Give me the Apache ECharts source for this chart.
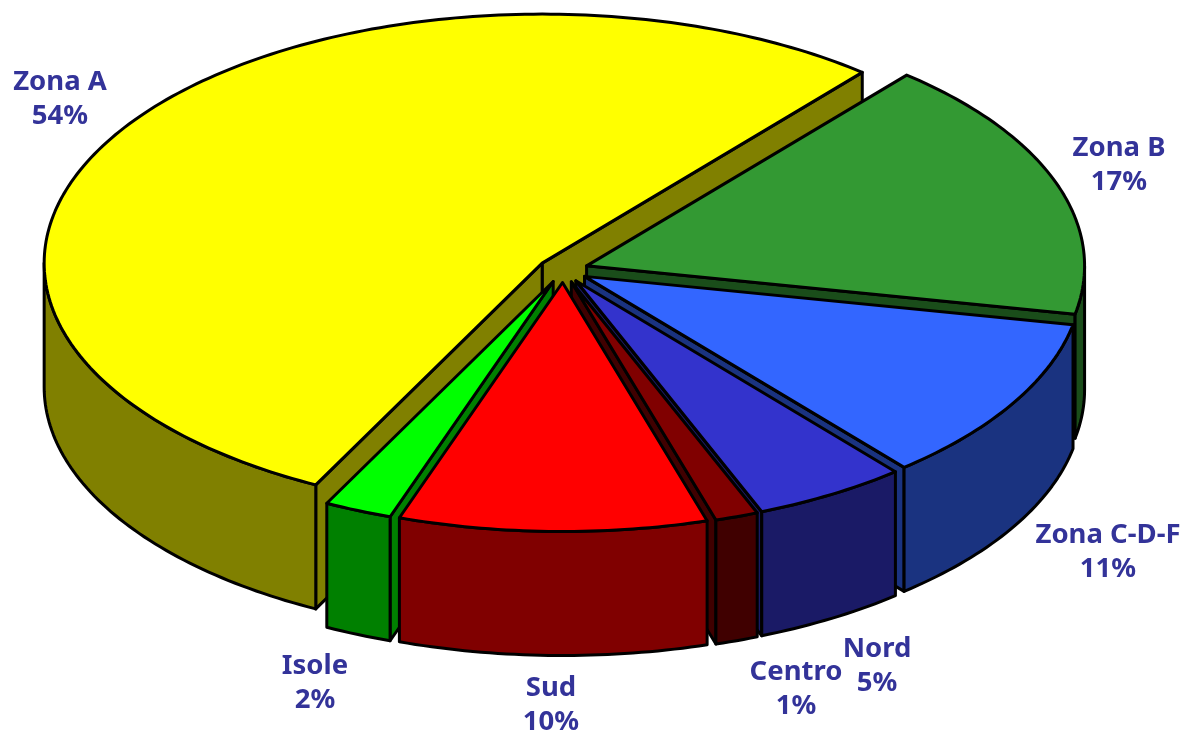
<!DOCTYPE html>
<html><head><meta charset="utf-8">
<style>html,body{margin:0;padding:0;background:#fff}#c{width:1189px;height:734px}</style>
<script src="https://cdn.jsdelivr.net/npm/echarts@6/dist/echarts.min.js"></script>
</head><body><div id="c"></div>
<script>
// data: counter-clockwise from the right-hand edge of Zona A
const categories = ['Zona A','Isole','Sud','Centro','Nord','Zona C-D-F','Zona B'];
const shares = [53.6,2.2,10,1.4,5,10.8,17];
const topColors = ['#FFFF00','#00FF00','#FF0000','#800000','#3333CC','#3366FF','#339933'];
const wallColors = ['#808000','#008000','#800000','#400000','#1A1A66','#1A3380','#1A4D1A'];
const paintOrder = ['Zona A','Zona B','Zona C-D-F','Nord','Centro','Isole','Sud'];
const labelCentres = [[60,99],[315,683],[551,705],[796,689],[877,666],[1108,552],[1119,165]];
const startAngle = 50, explode = 0.0502, depth = 0.498;
const total = shares.reduce((a,b)=>a+b,0);
const rad = d => d*Math.PI/180;

function renderItem(params, api){
  const i = params.dataIndex;
  const value = api.value(0);
  let cum = 0; for(let k=0;k<i;k++) cum += shares[k];
  const a0 = startAngle + cum/total*360, a1 = a0 + value/total*360, mid = (a0+a1)/2;
  const ox = explode*Math.cos(rad(mid)), oy = explode*Math.sin(rad(mid));
  const P = (a,d=0) => api.coord([ox+Math.cos(rad(a)), oy+Math.sin(rad(a))-d]);
  const C = (d=0) => api.coord([ox, oy-d]);
  const rank = paintOrder.indexOf(categories[i]);
  const kids = []; let seq = 0;
  const poly = (pts, fill) => kids.push({type:'polygon', z2:rank*20+(seq++),
    shape:{points:pts}, style:{fill, stroke:'#000', lineWidth:3, lineJoin:'round'}});
  const arc = (s,e,d) => {const n=Math.max(2,Math.ceil((e-s)/1)),r=[];for(let k=0;k<=n;k++)r.push(P(s+(e-s)*k/n,d));return r;};
  if(Math.cos(rad(a0))>0) poly([C(),P(a0),P(a0,depth),C(depth)], wallColors[i]);
  if(Math.cos(rad(a1))<0) poly([C(),P(a1),P(a1,depth),C(depth)], wallColors[i]);
  const s = Math.max(a0,180), e = Math.min(a1,360);
  if(e>s) poly(arc(s,e,0).concat(arc(s,e,depth).reverse()), wallColors[i]);
  poly([C()].concat(arc(a0,a1,0)), topColors[i]);
  const pct = Math.round(value/total*100);
  kids.push({type:'text', z2:1000, x:labelCentres[i][0], y:labelCentres[i][1],
    style:{text:categories[i]+'\n'+pct+'%', fill:'#333399', align:'center', verticalAlign:'middle',
      font:'bold 27.5px "Noto Sans"', lineHeight:34.5}});
  return {type:'group', children:kids};
}
const chart = echarts.init(document.getElementById('c'), null, {renderer:'canvas'});
chart.setOption({
  animation:false, backgroundColor:'#fff',
  grid:{left:65, top:21, width:996, height:498, containLabel:false},
  xAxis:{type:'value', min:-1, max:1, show:false},
  yAxis:{type:'value', min:-1, max:1, show:false},
  series:[{type:'custom', coordinateSystem:'cartesian2d', clip:false, renderItem,
    encode:{x:0,y:1}, silent:true, data:shares.map(v=>[v,0])}]
});
</script></body></html>
